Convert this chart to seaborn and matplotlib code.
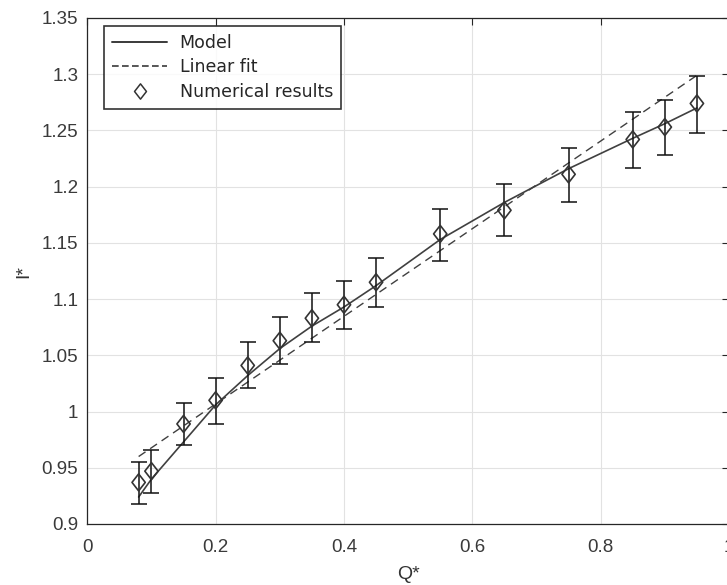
import numpy as np
import pandas as pd
import matplotlib
matplotlib.use("Agg")
import matplotlib.pyplot as plt
import seaborn as sns
from matplotlib.lines import Line2D
from matplotlib.path import Path

# ---- data ----
q_values = [0.08, 0.10, 0.15, 0.20, 0.25, 0.30, 0.35, 0.40, 0.45, 0.55, 0.65, 0.75, 0.85, 0.90, 0.95]
numerical = [0.937, 0.947, 0.989, 1.010, 1.041, 1.063, 1.083, 1.095, 1.115, 1.158, 1.179, 1.211, 1.242, 1.253, 1.274]
err_low = [0.918, 0.928, 0.970, 0.989, 1.021, 1.042, 1.062, 1.073, 1.093, 1.134, 1.156, 1.186, 1.217, 1.228, 1.248]
err_high = [0.955, 0.966, 1.008, 1.030, 1.062, 1.084, 1.105, 1.116, 1.137, 1.180, 1.202, 1.234, 1.266, 1.277, 1.298]
model = [0.924, 0.940, 0.973, 1.006, 1.032, 1.056, 1.076, 1.093, 1.112, 1.153, 1.186, 1.216, 1.243, 1.256, 1.270]
fit_q = [0.08, 0.95]
fit_i = [0.960, 1.299]
x_ticks = [0, 0.2, 0.4, 0.6, 0.8, 1]
x_ticklabels = ["0", "0.2", "0.4", "0.6", "0.8", "1"]
y_ticks = [0.9, 0.95, 1.0, 1.05, 1.1, 1.15, 1.2, 1.25, 1.3, 1.35]
y_ticklabels = ["0.9", "0.95", "1", "1.05", "1.1", "1.15", "1.2", "1.25", "1.3", "1.35"]

df = pd.DataFrame({"Q": q_values, "I": numerical, "model": model})
df_fit = pd.DataFrame({"Q": fit_q, "I": fit_i})

diamond = Path([(0, 1), (0.78, 0), (0, -1), (-0.78, 0), (0, 1)],
               [Path.MOVETO, Path.LINETO, Path.LINETO, Path.LINETO, Path.CLOSEPOLY])

sns.set_style("white")
plt.rcParams["font.family"] = ["Liberation Sans", "DejaVu Sans"]

fig = plt.figure(figsize=(7.27, 5.85), dpi=100)
ax = fig.add_axes([87.3 / 727, 61 / 585, (729 - 87.3) / 727, 506 / 585])

ax.grid(True, color="#e2e2e2", linewidth=0.8)
ax.set_axisbelow(True)

sns.lineplot(data=df, x="Q", y="model", ax=ax, color="#404040", linewidth=1.2, legend=False)
sns.lineplot(data=df_fit, x="Q", y="I", ax=ax, color="#404040", linewidth=1.0,
             linestyle=(0, (6, 4)), legend=False)

yerr = np.array([np.array(numerical) - np.array(err_low), np.array(err_high) - np.array(numerical)])
ax.errorbar(q_values, numerical, yerr=yerr, fmt="none", ecolor="#111111",
            elinewidth=1.1, capsize=5.5, capthick=1.1, zorder=3)
sns.scatterplot(data=df, x="Q", y="I", ax=ax, marker=diamond, s=150, facecolor="none",
                edgecolor="#333333", linewidth=1.2, zorder=4, legend=False)

ax.set_xlim(0, 1)
ax.set_ylim(0.9, 1.35)
ax.set_xticks(x_ticks)
ax.set_xticklabels(x_ticklabels)
ax.set_yticks(y_ticks)
ax.set_yticklabels(y_ticklabels)
ax.tick_params(direction="in", length=5, width=0.8, color="#262626",
               labelsize=13.5, labelcolor="#3a3a3a", top=True, right=True)
ax.tick_params(axis="x", pad=11)
ax.tick_params(axis="y", pad=6.5)
for s in ax.spines.values():
    s.set_color("#262626")
    s.set_linewidth(0.9)

ax.set_xlabel("Q*", fontsize=14, color="#333333", labelpad=7)
ax.set_ylabel("I*", fontsize=14, color="#333333", labelpad=7)

handles = [
    Line2D([], [], color="#3a3a3a", linewidth=1.4),
    Line2D([], [], color="#3a3a3a", linewidth=1.2, linestyle=(0, (4, 2))),
    Line2D([], [], color="#333333", marker=diamond, markersize=11, markerfacecolor="none",
           linestyle="none", markeredgewidth=1.1),
]
leg = ax.legend(handles, ["Model", "Linear fit", "Numerical results"],
                loc="upper left", bbox_to_anchor=(16.7 / 641.7, 1 - 8 / 506),
                fontsize=12.5, frameon=True, fancybox=False, handlelength=3.2,
                handletextpad=0.7, borderpad=0.45, labelspacing=0.38, borderaxespad=0)
leg.get_frame().set_edgecolor("black")
leg.get_frame().set_linewidth(1.2)
for t in leg.get_texts():
    t.set_fontfamily(["DejaVu Sans"])

fig.savefig("out.png", dpi=100)
